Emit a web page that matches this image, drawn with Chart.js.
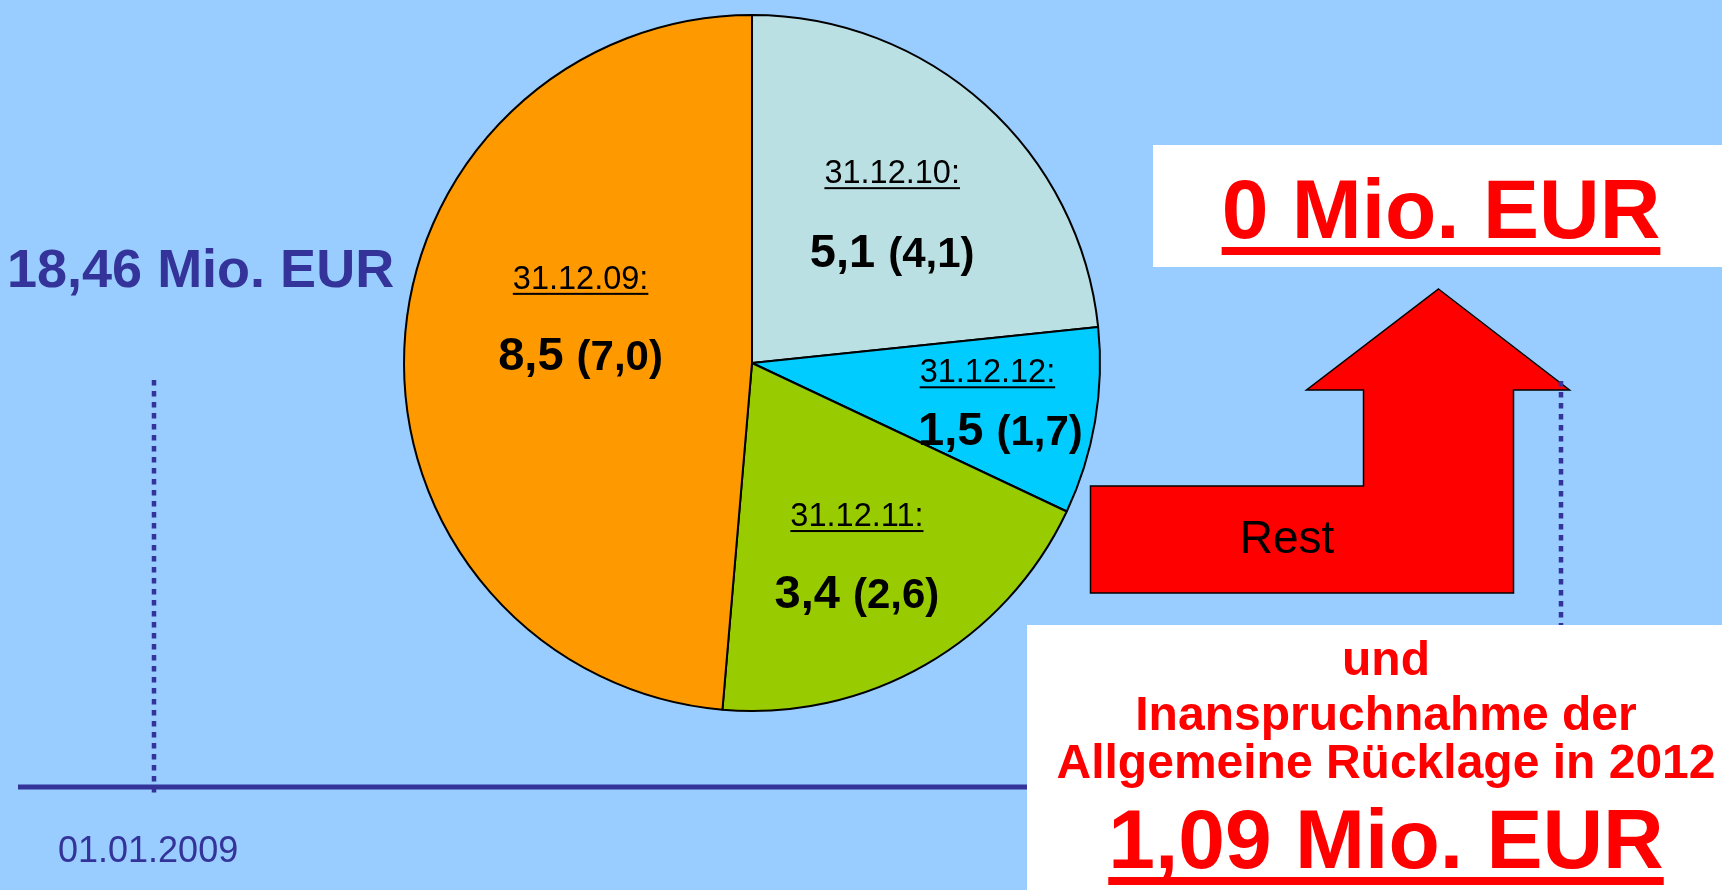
<!DOCTYPE html>
<html lang="de">
<head>
<meta charset="utf-8">
<title>Allgemeine Rücklage</title>
<script src="https://cdn.jsdelivr.net/npm/chart.js"></script>
<style>
  html, body { margin: 0; padding: 0; background: #99CCFF; }
  #wrap { position: relative; width: 1722px; height: 890px; }
</style>
</head>
<body>
<div id="wrap"><canvas id="pieChart"></canvas></div>
<script>
// slices clockwise from 12 o'clock
const dates = ['31.12.10:', '31.12.12:', '31.12.11:', '31.12.09:'];
// printed figures in Mio. EUR, previous figure in brackets
const values = ['5,1', '1,5', '3,4', '8,5'];
const prevValues = ['(4,1)', '(1,7)', '(2,6)', '(7,0)'];
// slice sizes as drawn in the picture (Mio. EUR, sum 18,46)
const sliceSizes = [4.31, 1.60, 3.57, 8.98];
const sliceColors = ['#BBE0E3', '#00CCFF', '#99CC00', '#FF9900'];

const FONT = '"Liberation Sans", Arial, sans-serif';
const BLUE = '#333399';
const RED = '#FF0000';

// where the text sits inside each slice: t = share along the arc, r = share of radius
const labelPlace = [
  { t: 0.662, r: 0.488, dx: 0, dy: -84 },
  { t: 0.778, r: 0.752, dx: -13, dy: -63 },
  { t: 0.597, r: 0.766, dx: 0, dy: -82 },
  { t: 0.473, r: 0.493, dx: 0, dy: -81 }
];

function dotted(ctx, x, y1, y2) {
  ctx.save();
  ctx.strokeStyle = BLUE;
  ctx.lineWidth = 4.5;
  ctx.setLineDash([5.5, 5.5]);
  ctx.beginPath();
  ctx.moveTo(x, y1);
  ctx.lineTo(x, y2);
  ctx.stroke();
  ctx.restore();
}

function redText(ctx, text, x, y, size, uline) {
  ctx.font = 'bold ' + size + 'px ' + FONT;
  ctx.fillStyle = RED;
  ctx.textAlign = 'center';
  ctx.fillText(text, x, y);
  if (uline) {
    const w = ctx.measureText(text).width;
    ctx.fillRect(x - w / 2, y + 9, w, 8);
  }
}

const slideBack = {
  id: 'slideBack',
  beforeDraw(chart) {
    const ctx = chart.ctx;
    ctx.save();
    ctx.fillStyle = '#99CCFF';
    ctx.fillRect(0, 0, chart.width, chart.height);

    // time line
    ctx.strokeStyle = BLUE;
    ctx.lineWidth = 5;
    ctx.beginPath();
    ctx.moveTo(18, 787);
    ctx.lineTo(1040, 787);
    ctx.stroke();
    dotted(ctx, 154, 380, 798);

    ctx.fillStyle = BLUE;
    ctx.textAlign = 'left';
    ctx.font = 'bold 54px ' + FONT;
    ctx.fillText('18,46 Mio. EUR', 7, 287);
    ctx.font = '36px ' + FONT;
    ctx.fillText('01.01.2009', 58, 862);
    ctx.restore();
  }
};

const pieLabels = {
  id: 'pieLabels',
  afterDatasetsDraw(chart) {
    const ctx = chart.ctx;
    const arcs = chart.getDatasetMeta(0).data;
    arcs.forEach((arc, i) => {
      const p = labelPlace[i];
      const a = arc.startAngle + (arc.endAngle - arc.startAngle) * p.t;
      const d = arc.outerRadius * p.r;
      const x = arc.x + Math.cos(a) * d;
      const y = arc.y + Math.sin(a) * d;
      ctx.save();
      ctx.fillStyle = '#000';
      ctx.textAlign = 'left';
      ctx.font = 'bold 47px ' + FONT;
      const w1 = ctx.measureText(values[i] + ' ').width;
      ctx.font = 'bold 42px ' + FONT;
      const w2 = ctx.measureText(prevValues[i]).width;
      const sx = x - (w1 + w2) / 2;
      ctx.font = 'bold 47px ' + FONT;
      ctx.fillText(values[i] + ' ', sx, y);
      ctx.font = 'bold 42px ' + FONT;
      ctx.fillText(prevValues[i], sx + w1, y);

      ctx.font = '32.5px ' + FONT;
      ctx.textAlign = 'center';
      const dx = x + p.dx, dy = y + p.dy;
      ctx.fillText(dates[i], dx, dy);
      const wd = ctx.measureText(dates[i]).width;
      ctx.fillRect(dx - wd / 2, dy + 4, wd, 2);
      ctx.restore();
    });
  }
};

const slideFront = {
  id: 'slideFront',
  afterDraw(chart) {
    const ctx = chart.ctx;
    ctx.save();

    // arrow
    const arrow = [[1438.5, 289], [1569.5, 390], [1513.5, 390], [1513.5, 593],
      [1090.5, 593], [1090.5, 486], [1363.5, 486], [1363.5, 390], [1306.5, 390]];
    ctx.beginPath();
    arrow.forEach(([x, y], k) => k ? ctx.lineTo(x, y) : ctx.moveTo(x, y));
    ctx.closePath();
    ctx.fillStyle = RED;
    ctx.fill();
    ctx.strokeStyle = '#000';
    ctx.lineWidth = 1.5;
    ctx.stroke();
    ctx.fillStyle = '#000';
    ctx.textAlign = 'center';
    ctx.font = '46px ' + FONT;
    ctx.fillText('Rest', 1287, 553);

    dotted(ctx, 1561, 381, 625);

    // boxes
    ctx.fillStyle = '#FFFFFF';
    ctx.fillRect(1153, 145, 569, 122);
    ctx.fillRect(1027, 625, 695, 265);

    redText(ctx, '0 Mio. EUR', 1441, 238, 84, true);
    redText(ctx, 'und', 1386, 675, 48, false);
    redText(ctx, 'Inanspruchnahme der', 1386, 730, 48, false);
    redText(ctx, 'Allgemeine Rücklage in 2012', 1386, 778, 48, false);
    redText(ctx, '1,09 Mio. EUR', 1386, 868, 84, true);
    ctx.restore();
  }
};

const ctx = document.getElementById('pieChart').getContext('2d');

const pieChart = new Chart(ctx, {
  type: 'pie',
  data: {
    labels: dates,
    datasets: [{
      data: sliceSizes,
      backgroundColor: sliceColors,
      borderColor: '#000000',
      borderWidth: 2
    }]
  },
  options: {
    responsive: true,
    maintainAspectRatio: false,
    animation: false,
    radius: 348,
    layout: { padding: { left: 402, top: 13, right: 620, bottom: 177 } },
    plugins: {
      legend: { display: false },
      tooltip: { enabled: false }
    }
  },
  plugins: [slideBack, pieLabels, slideFront]
});
</script>
</body>
</html>
